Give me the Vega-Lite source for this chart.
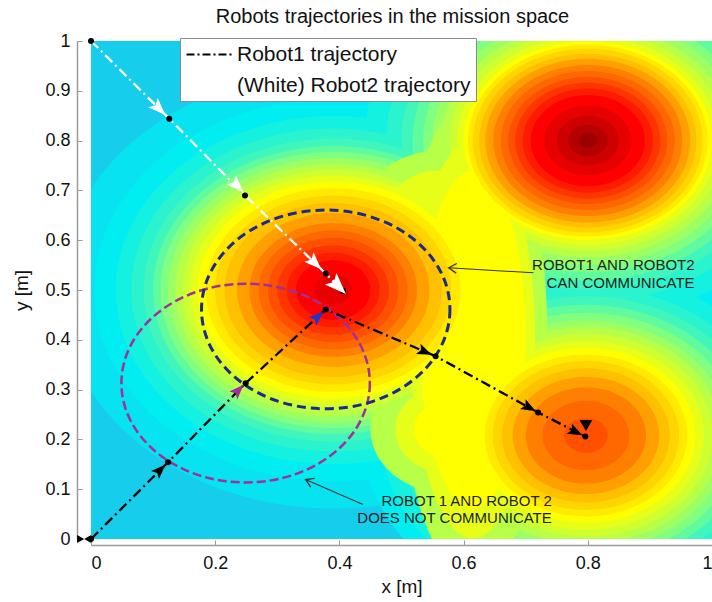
{
  "$schema": "https://vega.github.io/schema/vega-lite/v6.json",
  "width": 621,
  "height": 498,
  "autosize": {"type": "none"},
  "padding": {"left": 91, "top": 41, "right": 0, "bottom": 63},
  "background": "white",
  "title": {"text": "Robots trajectories in the mission space", "fontSize": 20, "font": "Liberation Sans", "fontWeight": "normal", "color": "#111", "offset": 5, "dx": -9},
  "config": {"view": {"stroke": null}, "font": "Liberation Sans"},
  "datasets": {
    "plane": [{"x1": 0, "x2": 1, "y1": 0, "y2": 1}],
    "contours": [
      {"peak": "P2", "form": "round", "x": 0.39, "y": 0.5, "level": 0.35, "r": 0.44},
      {"peak": "P2", "form": "round", "x": 0.39, "y": 0.5, "level": 0.375, "r": 0.385},
      {"peak": "P3", "form": "round", "x": 0.797, "y": 0.208, "level": 0.375, "r": 0.36},
      {"peak": "P1", "form": "round", "x": 0.8, "y": 0.8, "level": 0.4, "r": 0.36},
      {"peak": "P2", "form": "round", "x": 0.39, "y": 0.5, "level": 0.4, "r": 0.35},
      {"peak": "P3", "form": "round", "x": 0.797, "y": 0.208, "level": 0.4, "r": 0.33},
      {"peak": "P1", "form": "round", "x": 0.8, "y": 0.8, "level": 0.425, "r": 0.325},
      {"peak": "P2", "form": "round", "x": 0.39, "y": 0.5, "level": 0.425, "r": 0.325},
      {"peak": "P3", "form": "round", "x": 0.797, "y": 0.208, "level": 0.425, "r": 0.3},
      {"peak": "P1", "form": "round", "x": 0.8, "y": 0.8, "level": 0.45, "r": 0.3},
      {"peak": "P2", "form": "round", "x": 0.39, "y": 0.5, "level": 0.45, "r": 0.305},
      {"peak": "P3", "form": "round", "x": 0.797, "y": 0.208, "level": 0.45, "r": 0.28},
      {"peak": "P1", "form": "round", "x": 0.8, "y": 0.8, "level": 0.475, "r": 0.282},
      {"peak": "P2", "form": "round", "x": 0.39, "y": 0.5, "level": 0.475, "r": 0.29},
      {"peak": "P3", "form": "round", "x": 0.797, "y": 0.208, "level": 0.475, "r": 0.263},
      {"peak": "P1", "form": "round", "x": 0.8, "y": 0.8, "level": 0.5, "r": 0.265},
      {"peak": "P2", "form": "round", "x": 0.39, "y": 0.5, "level": 0.5, "r": 0.278},
      {"peak": "P3", "form": "round", "x": 0.797, "y": 0.208, "level": 0.5, "r": 0.247},
      {"peak": "P1", "form": "round", "x": 0.8, "y": 0.8, "level": 0.525, "r": 0.25},
      {"peak": "P2", "form": "round", "x": 0.39, "y": 0.5, "level": 0.525, "r": 0.266},
      {"peak": "P3", "form": "round", "x": 0.797, "y": 0.208, "level": 0.525, "r": 0.232},
      {"peak": "P1", "form": "round", "x": 0.8, "y": 0.8, "level": 0.55, "r": 0.235},
      {"peak": "P2", "form": "round", "x": 0.39, "y": 0.5, "level": 0.55, "r": 0.254},
      {"peak": "P3", "form": "round", "x": 0.797, "y": 0.208, "level": 0.55, "r": 0.218},
      {"peak": "saddle", "form": "tall", "x": 0.615, "y": 0.4, "level": 0.55, "r": 0.12},
      {"peak": "saddle2", "form": "round", "x": 0.58, "y": 0.22, "level": 0.55, "r": 0.13},
      {"peak": "saddle3", "form": "round", "x": 0.56, "y": 0.66, "level": 0.55, "r": 0.12},
      {"peak": "P1", "form": "round", "x": 0.8, "y": 0.8, "level": 0.575, "r": 0.222},
      {"peak": "P2", "form": "round", "x": 0.39, "y": 0.5, "level": 0.575, "r": 0.242},
      {"peak": "P3", "form": "round", "x": 0.797, "y": 0.208, "level": 0.575, "r": 0.204},
      {"peak": "P1", "form": "round", "x": 0.8, "y": 0.8, "level": 0.6, "r": 0.21},
      {"peak": "P2", "form": "round", "x": 0.39, "y": 0.5, "level": 0.6, "r": 0.23},
      {"peak": "P3", "form": "round", "x": 0.797, "y": 0.208, "level": 0.6, "r": 0.19},
      {"peak": "saddle", "form": "tall", "x": 0.615, "y": 0.4, "level": 0.6, "r": 0.1},
      {"peak": "saddle2", "form": "round", "x": 0.58, "y": 0.22, "level": 0.6, "r": 0.09},
      {"peak": "saddle3", "form": "round", "x": 0.56, "y": 0.66, "level": 0.6, "r": 0.08},
      {"peak": "P1", "form": "round", "x": 0.8, "y": 0.8, "level": 0.625, "r": 0.2},
      {"peak": "P2", "form": "round", "x": 0.39, "y": 0.5, "level": 0.625, "r": 0.218},
      {"peak": "P3", "form": "round", "x": 0.797, "y": 0.208, "level": 0.625, "r": 0.176},
      {"peak": "saddle", "form": "tall", "x": 0.615, "y": 0.4, "level": 0.625, "r": 0.085},
      {"peak": "saddle2", "form": "round", "x": 0.58, "y": 0.22, "level": 0.625, "r": 0.06},
      {"peak": "P1", "form": "round", "x": 0.8, "y": 0.8, "level": 0.65, "r": 0.193},
      {"peak": "P2", "form": "round", "x": 0.39, "y": 0.5, "level": 0.65, "r": 0.205},
      {"peak": "P3", "form": "round", "x": 0.797, "y": 0.208, "level": 0.65, "r": 0.163},
      {"peak": "P1", "form": "round", "x": 0.8, "y": 0.8, "level": 0.675, "r": 0.185},
      {"peak": "P2", "form": "round", "x": 0.39, "y": 0.5, "level": 0.675, "r": 0.19},
      {"peak": "P3", "form": "round", "x": 0.797, "y": 0.208, "level": 0.675, "r": 0.15},
      {"peak": "P1", "form": "round", "x": 0.8, "y": 0.8, "level": 0.7, "r": 0.175},
      {"peak": "P2", "form": "round", "x": 0.39, "y": 0.5, "level": 0.7, "r": 0.175},
      {"peak": "P3", "form": "round", "x": 0.797, "y": 0.208, "level": 0.7, "r": 0.135},
      {"peak": "P1", "form": "round", "x": 0.8, "y": 0.8, "level": 0.725, "r": 0.165},
      {"peak": "P2", "form": "round", "x": 0.39, "y": 0.5, "level": 0.725, "r": 0.155},
      {"peak": "P3", "form": "round", "x": 0.797, "y": 0.208, "level": 0.725, "r": 0.118},
      {"peak": "P1", "form": "round", "x": 0.8, "y": 0.8, "level": 0.75, "r": 0.152},
      {"peak": "P2", "form": "round", "x": 0.39, "y": 0.5, "level": 0.75, "r": 0.135},
      {"peak": "P3", "form": "round", "x": 0.797, "y": 0.208, "level": 0.75, "r": 0.097},
      {"peak": "P1", "form": "round", "x": 0.8, "y": 0.8, "level": 0.775, "r": 0.14},
      {"peak": "P2", "form": "round", "x": 0.39, "y": 0.5, "level": 0.775, "r": 0.12},
      {"peak": "P3", "form": "round", "x": 0.797, "y": 0.208, "level": 0.775, "r": 0.07},
      {"peak": "P1", "form": "round", "x": 0.8, "y": 0.8, "level": 0.8, "r": 0.128},
      {"peak": "P2", "form": "round", "x": 0.39, "y": 0.5, "level": 0.8, "r": 0.105},
      {"peak": "P3", "form": "round", "x": 0.797, "y": 0.208, "level": 0.8, "r": 0.035},
      {"peak": "P1", "form": "round", "x": 0.8, "y": 0.8, "level": 0.825, "r": 0.117},
      {"peak": "P2", "form": "round", "x": 0.39, "y": 0.5, "level": 0.825, "r": 0.09},
      {"peak": "P1", "form": "round", "x": 0.8, "y": 0.8, "level": 0.85, "r": 0.105},
      {"peak": "P2", "form": "round", "x": 0.39, "y": 0.5, "level": 0.85, "r": 0.075},
      {"peak": "P1", "form": "round", "x": 0.8, "y": 0.8, "level": 0.875, "r": 0.092},
      {"peak": "P2", "form": "round", "x": 0.39, "y": 0.5, "level": 0.875, "r": 0.06},
      {"peak": "P1", "form": "round", "x": 0.8, "y": 0.8, "level": 0.9, "r": 0.07},
      {"peak": "P2", "form": "round", "x": 0.39, "y": 0.5, "level": 0.9, "r": 0.03},
      {"peak": "P1", "form": "round", "x": 0.8, "y": 0.8, "level": 0.925, "r": 0.05},
      {"peak": "P1", "form": "round", "x": 0.8, "y": 0.8, "level": 0.95, "r": 0.032},
      {"peak": "P1", "form": "round", "x": 0.8, "y": 0.8, "level": 0.975, "r": 0.015}
    ],
    "traj": [
      {"robot": "Robot1 trajectory", "step": 0, "x": 0, "y": 0},
      {"robot": "Robot1 trajectory", "step": 1, "x": 0.124, "y": 0.154},
      {"robot": "Robot1 trajectory", "step": 2, "x": 0.249, "y": 0.313},
      {"robot": "Robot1 trajectory", "step": 3, "x": 0.378, "y": 0.461},
      {"robot": "Robot1 trajectory", "step": 4, "x": 0.555, "y": 0.367},
      {"robot": "Robot1 trajectory", "step": 5, "x": 0.72, "y": 0.254},
      {"robot": "Robot1 trajectory", "step": 6, "x": 0.796, "y": 0.206},
      {"robot": "(White) Robot2 trajectory", "step": 0, "x": 0, "y": 1},
      {"robot": "(White) Robot2 trajectory", "step": 1, "x": 0.126, "y": 0.844},
      {"robot": "(White) Robot2 trajectory", "step": 2, "x": 0.248, "y": 0.69},
      {"robot": "(White) Robot2 trajectory", "step": 3, "x": 0.378, "y": 0.533},
      {"robot": "(White) Robot2 trajectory", "step": 4, "x": 0.406, "y": 0.498}
    ],
    "heads": [
      {"kind": "black", "x": 0.11, "y": 0.137, "heading": 45},
      {"kind": "magenta", "x": 0.236, "y": 0.297, "heading": 44},
      {"kind": "blue", "x": 0.364, "y": 0.445, "heading": 48},
      {"kind": "black", "x": 0.536, "y": 0.377, "heading": 113},
      {"kind": "black", "x": 0.704, "y": 0.265, "heading": 119},
      {"kind": "black", "x": 0.779, "y": 0.216, "heading": 117},
      {"kind": "white", "x": 0.108, "y": 0.866, "heading": 135},
      {"kind": "white", "x": 0.234, "y": 0.711, "heading": 135},
      {"kind": "white", "x": 0.359, "y": 0.556, "heading": 135},
      {"kind": "whitebig", "x": 0.396, "y": 0.51, "heading": 135},
      {"kind": "end", "x": 0.797, "y": 0.228, "heading": 180},
      {"kind": "start", "x": -0.011, "y": 0, "heading": 0}
    ],
    "ranges": [
      {"label": "ROBOT 1 AND ROBOT 2 DOES NOT COMMUNICATE", "x": 0.249, "y": 0.313},
      {"label": "ROBOT1 AND ROBOT2 CAN COMMUNICATE", "x": 0.378, "y": 0.461}
    ],
    "notes": [
      {"text": "ROBOT1 AND ROBOT2", "x": 0.972, "y": 0.551},
      {"text": "CAN COMMUNICATE", "x": 0.972, "y": 0.515},
      {"text": "ROBOT 1 AND ROBOT 2", "x": 0.742, "y": 0.077},
      {"text": "DOES NOT COMMUNICATE", "x": 0.742, "y": 0.043}
    ],
    "pointers": [
      {"id": "upper", "x": 0.7125, "y": 0.5345, "x2": 0.576, "y2": 0.5446},
      {"id": "lower", "x": 0.438, "y": 0.0693, "x2": 0.3455, "y2": 0.1195}
    ]
  },
  "layer": [
    {
      "data": {"name": "plane"},
      "mark": {"type": "rect", "clip": true, "fill": "#16cdeb"},
      "encoding": {
        "x": {"field": "x1", "type": "quantitative", "scale": {"domain": [0, 1], "nice": false, "zero": false},
          "axis": {"title": "x [m]", "values": [0, 0.2, 0.4, 0.6, 0.8, 1], "format": "~g", "offset": 6, "grid": false,
            "domainColor": "#9a9a9a", "domainWidth": 1.5, "tickColor": "#9a9a9a", "tickSize": -5, "tickWidth": 1,
            "labelFontSize": 18, "labelColor": "#111", "labelPadding": 14, "labelFlush": true,
            "titleFontSize": 19, "titleFontWeight": "normal", "titleColor": "#111", "titlePadding": 5}},
        "x2": {"field": "x2"},
        "y": {"field": "y1", "type": "quantitative", "scale": {"domain": [0, 1], "nice": false, "zero": false},
          "axis": {"title": "y [m]", "values": [0, 0.1, 0.2, 0.3, 0.4, 0.5, 0.6, 0.7, 0.8, 0.9, 1], "format": "~g", "offset": 14, "grid": false,
            "domainColor": "#9a9a9a", "domainWidth": 1.5, "tickColor": "#9a9a9a", "tickSize": -5, "tickWidth": 1,
            "labelFontSize": 18, "labelColor": "#111", "labelPadding": 12, "labelFlush": false,
            "titleFontSize": 19, "titleFontWeight": "normal", "titleColor": "#111", "titlePadding": 13}},
        "y2": {"field": "y2"}
      }
    },
    {
      "data": {"name": "contours"},
      "mark": {"type": "point", "clip": true, "filled": true, "opacity": 1, "strokeWidth": 0},
      "encoding": {
        "x": {"field": "x", "type": "quantitative"},
        "y": {"field": "y", "type": "quantitative"},
        "order": {"field": "level", "type": "quantitative", "sort": "ascending"},
        "size": {"field": "r", "type": "quantitative", "scale": {"type": "pow", "exponent": 2, "domain": [0, 1], "range": [0, 1542564], "zero": true}, "legend": null},
        "shape": {"field": "form", "type": "nominal", "scale": {"domain": ["round", "tall"], "range": [
          "M 1 0 C 1 0.4418 0.5523 0.8 0 0.8 C -0.5523 0.8 -1 0.4418 -1 0 C -1 -0.4418 -0.5523 -0.8 0 -0.8 C 0.5523 -0.8 1 -0.4418 1 0 Z",
          "M 1 0 C 1 1.767 0.5523 3.2 0 3.2 C -0.5523 3.2 -1 1.767 -1 0 C -1 -1.767 -0.5523 -3.2 0 -3.2 C 0.5523 -3.2 1 -1.767 1 0 Z"]}, "legend": null},
        "fill": {"field": "level", "type": "quantitative", "legend": null, "scale": {"type": "linear", "interpolate": "rgb",
          "domain": [0.3, 0.375, 0.45, 0.5, 0.55, 0.625, 0.7, 0.75, 0.8, 0.875, 0.94, 1.0],
          "range": ["#16cdeb", "#00eef2", "#40f6bc", "#80ff80", "#b8ff48", "#ffff00", "#ffc000", "#ff8000", "#ff5000", "#ff0000", "#c00000", "#800000"]}}
      }
    },
    {
      "data": {"name": "ranges"},
      "transform": [{"filter": "datum.label === 'ROBOT 1 AND ROBOT 2 DOES NOT COMMUNICATE'"}],
      "mark": {"type": "point", "filled": false, "shape": "M 1 0 C 1 0.4418 0.5523 0.8 0 0.8 C -0.5523 0.8 -1 0.4418 -1 0 C -1 -0.4418 -0.5523 -0.8 0 -0.8 C 0.5523 -0.8 1 -0.4418 1 0 Z", "size": 61703, "stroke": "#a0309a", "strokeWidth": 2.5, "strokeDash": [9, 4], "opacity": 1},
      "encoding": {"x": {"field": "x", "type": "quantitative"}, "y": {"field": "y", "type": "quantitative"}}
    },
    {
      "data": {"name": "ranges"},
      "transform": [{"filter": "datum.label === 'ROBOT1 AND ROBOT2 CAN COMMUNICATE'"}],
      "mark": {"type": "point", "filled": false, "shape": "M 1 0 C 1 0.4418 0.5523 0.8 0 0.8 C -0.5523 0.8 -1 0.4418 -1 0 C -1 -0.4418 -0.5523 -0.8 0 -0.8 C 0.5523 -0.8 1 -0.4418 1 0 Z", "size": 61703, "stroke": "#1c2a8c", "strokeWidth": 3, "strokeDash": [9, 5], "opacity": 1},
      "encoding": {"x": {"field": "x", "type": "quantitative"}, "y": {"field": "y", "type": "quantitative"}}
    },
    {
      "data": {"name": "traj"},
      "mark": {"type": "line", "strokeWidth": 2.3, "strokeDash": [10, 4, 2, 4]},
      "encoding": {
        "x": {"field": "x", "type": "quantitative"},
        "y": {"field": "y", "type": "quantitative"},
        "order": {"field": "step"},
        "color": {"field": "robot", "type": "nominal",
          "scale": {"domain": ["Robot1 trajectory", "(White) Robot2 trajectory"], "range": ["#000000", "#ffffff"]},
          "legend": {"title": null, "orient": "none", "legendX": 89, "legendY": -3, "padding": 5,
            "fillColor": "white", "strokeColor": "#8a8a8a", "labelFontSize": 21, "labelFont": "Liberation Sans", "labelColor": "#111", "labelLimit": 400,
            "symbolType": "M -1 0 L 3.8 0", "symbolSize": 400, "symbolStrokeWidth": 2.2, "symbolDash": [8, 3, 2, 3],
            "symbolFillColor": "transparent", "rowPadding": 9, "labelOffset": 29}}
      }
    },
    {
      "data": {"name": "traj"},
      "mark": {"type": "point", "filled": true, "fill": "#000000", "size": 36, "opacity": 1, "strokeWidth": 0},
      "encoding": {"x": {"field": "x", "type": "quantitative"}, "y": {"field": "y", "type": "quantitative"}}
    },
    {
      "data": {"name": "heads"},
      "transform": [{"filter": "datum.kind === 'black'"}],
      "mark": {"type": "point", "filled": true, "fill": "#000000", "opacity": 1, "size": 300, "shape": "M 0 -1 L 0.65 0.7 L 0 0.35 L -0.65 0.7 Z"},
      "encoding": {"x": {"field": "x", "type": "quantitative"}, "y": {"field": "y", "type": "quantitative"}, "angle": {"field": "heading", "type": "quantitative", "scale": null}}
    },
    {
      "data": {"name": "heads"},
      "transform": [{"filter": "datum.kind === 'magenta'"}],
      "mark": {"type": "point", "filled": true, "fill": "#a0309a", "opacity": 1, "size": 300, "shape": "M 0 -1 L 0.65 0.7 L 0 0.35 L -0.65 0.7 Z"},
      "encoding": {"x": {"field": "x", "type": "quantitative"}, "y": {"field": "y", "type": "quantitative"}, "angle": {"field": "heading", "type": "quantitative", "scale": null}}
    },
    {
      "data": {"name": "heads"},
      "transform": [{"filter": "datum.kind === 'blue'"}],
      "mark": {"type": "point", "filled": true, "fill": "#2233cc", "opacity": 1, "size": 300, "shape": "M 0 -1 L 0.65 0.7 L 0 0.35 L -0.65 0.7 Z"},
      "encoding": {"x": {"field": "x", "type": "quantitative"}, "y": {"field": "y", "type": "quantitative"}, "angle": {"field": "heading", "type": "quantitative", "scale": null}}
    },
    {
      "data": {"name": "heads"},
      "transform": [{"filter": "datum.kind === 'white'"}],
      "mark": {"type": "point", "filled": true, "fill": "#ffffff", "opacity": 1, "size": 420, "shape": "M 0 -1 L 0.65 0.7 L 0 0.35 L -0.65 0.7 Z"},
      "encoding": {"x": {"field": "x", "type": "quantitative"}, "y": {"field": "y", "type": "quantitative"}, "angle": {"field": "heading", "type": "quantitative", "scale": null}}
    },
    {
      "data": {"name": "heads"},
      "transform": [{"filter": "datum.kind === 'whitebig'"}],
      "mark": {"type": "point", "filled": true, "fill": "#ffffff", "opacity": 1, "size": 640, "shape": "M 0 -1 L 0.65 0.7 L 0 0.35 L -0.65 0.7 Z"},
      "encoding": {"x": {"field": "x", "type": "quantitative"}, "y": {"field": "y", "type": "quantitative"}, "angle": {"field": "heading", "type": "quantitative", "scale": null}}
    },
    {
      "data": {"name": "heads"},
      "transform": [{"filter": "datum.kind === 'end'"}],
      "mark": {"type": "point", "filled": true, "fill": "#000000", "opacity": 1, "size": 160, "shape": "triangle-down"},
      "encoding": {"x": {"field": "x", "type": "quantitative"}, "y": {"field": "y", "type": "quantitative"}}
    },
    {
      "data": {"name": "heads"},
      "transform": [{"filter": "datum.kind === 'start'"}],
      "mark": {"type": "point", "filled": true, "fill": "#000000", "opacity": 1, "size": 200, "shape": "M -1 -0.55 L 0 0 L -1 0.55 Z M 1 -0.55 L 0 0 L 1 0.55 Z"},
      "encoding": {"x": {"field": "x", "type": "quantitative"}, "y": {"field": "y", "type": "quantitative"}}
    },
    {
      "data": {"name": "pointers"},
      "mark": {"type": "rule", "stroke": "#333333", "strokeWidth": 1.1},
      "encoding": {"x": {"field": "x", "type": "quantitative"}, "y": {"field": "y", "type": "quantitative"}, "x2": {"field": "x2"}, "y2": {"field": "y2"}}
    },
    {
      "data": {"name": "pointers"},
      "transform": [{"filter": "datum.id === 'upper'"}],
      "mark": {"type": "point", "filled": false, "stroke": "#333333", "strokeWidth": 1.3, "opacity": 1, "size": 144, "angle": 4, "shape": "M 1.3 -0.8 L 0 0 L 1.3 0.8"},
      "encoding": {"x": {"field": "x2", "type": "quantitative"}, "y": {"field": "y2", "type": "quantitative"}}
    },
    {
      "data": {"name": "pointers"},
      "transform": [{"filter": "datum.id === 'lower'"}],
      "mark": {"type": "point", "filled": false, "stroke": "#333333", "strokeWidth": 1.3, "opacity": 1, "size": 144, "angle": 24, "shape": "M 1.3 -0.8 L 0 0 L 1.3 0.8"},
      "encoding": {"x": {"field": "x2", "type": "quantitative"}, "y": {"field": "y2", "type": "quantitative"}}
    },
    {
      "data": {"name": "notes"},
      "mark": {"type": "text", "align": "right", "baseline": "middle", "fontSize": 15, "font": "Liberation Sans", "fill": "#1e1e1e"},
      "encoding": {"x": {"field": "x", "type": "quantitative"}, "y": {"field": "y", "type": "quantitative"}, "text": {"field": "text"}}
    }
  ]
}
